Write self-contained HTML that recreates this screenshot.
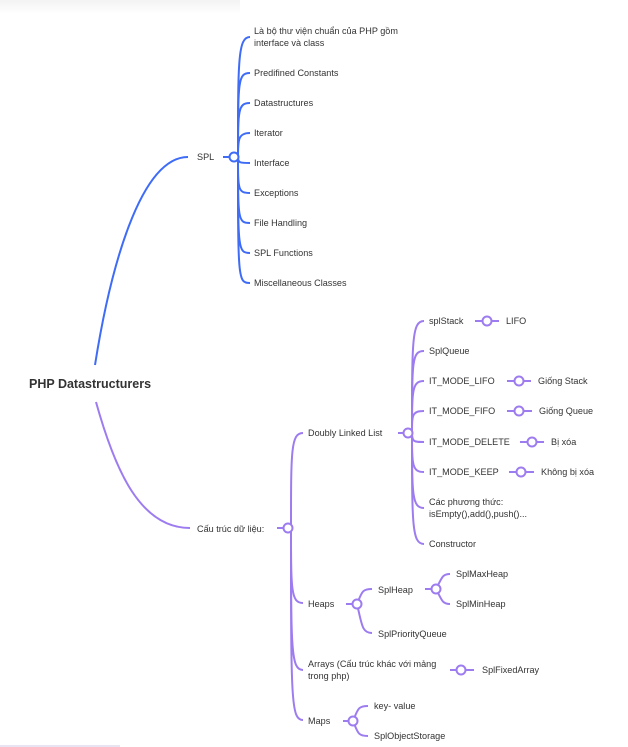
<!DOCTYPE html>
<html><head><meta charset="utf-8"><style>
html,body{margin:0;padding:0;background:#fff;}
svg{display:block;}
text{font-family:"Liberation Sans","Noto Sans CJK SC",sans-serif;font-size:9.1px;fill:#333;}
.r{font-size:12.5px;font-weight:bold;fill:#333;}
.b{stroke:#3f6cf6;stroke-width:2;fill:none;}
.p{stroke:#9d7cf0;stroke-width:2;fill:none;}
.cb{stroke:#3f6cf6;stroke-width:2;fill:#fff;}
.cp{stroke:#9d7cf0;stroke-width:2;fill:#fff;}
</style></head><body>
<svg width="628" height="747" viewBox="0 0 628 747" xmlns="http://www.w3.org/2000/svg">
<defs><linearGradient id="sh" x1="0" y1="0" x2="0" y2="1"><stop offset="0" stop-color="#f3f3f3"/><stop offset="1" stop-color="#fff"/></linearGradient></defs>
<rect x="0" y="0" width="240" height="14" fill="url(#sh)"/>
<rect x="0" y="745" width="120" height="2" fill="#e8e4f2"/>
<text class="r" x="29" y="388">PHP Datastructurers</text>
<path class="b" d="M95,365 C110,270 140,157 188,157"/>
<path class="p" d="M96,402 C115,470 140,528 190,528"/>
<text x="197" y="160">SPL</text>
<path class="b" d="M223,157 L230,157"/>
<path class="b" d="M238,157 C238,60 238,37 250,37"/>
<path class="b" d="M238,157 C238,280 238,283 250,283"/>
<path class="b" d="M238,157 C238,80 238,73 250,73"/>
<path class="b" d="M238,157 C238,110 238,103 250,103"/>
<path class="b" d="M238,157 C238,140 238,133 250,133"/>
<path class="b" d="M238,157 C238,163 240,163 250,163"/>
<path class="b" d="M238,157 C238,190 238,193 250,193"/>
<path class="b" d="M238,157 C238,220 238,223 250,223"/>
<path class="b" d="M238,157 C238,250 238,253 250,253"/>
<circle class="cb" cx="234" cy="157" r="4.5"/>
<text x="254" y="34">Là bộ thư viện chuẩn của PHP gồm</text>
<text x="254" y="46">interface và class</text>
<text x="254" y="76">Predifined Constants</text>
<text x="254" y="106">Datastructures</text>
<text x="254" y="136">Iterator</text>
<text x="254" y="166">Interface</text>
<text x="254" y="196">Exceptions</text>
<text x="254" y="226">File Handling</text>
<text x="254" y="256">SPL Functions</text>
<text x="254" y="286">Miscellaneous Classes</text>
<text x="197" y="532">Cấu trúc dữ liệu:</text>
<path class="p" d="M277,528 L284,528"/>
<path class="p" d="M291,528 C291,450 291,433 303,433"/>
<path class="p" d="M291,528 C291,590 291,603 303,603"/>
<path class="p" d="M291,528 C291,650 291,670 303,670"/>
<path class="p" d="M291,528 C291,700 291,720 303,720"/>
<circle class="cp" cx="288" cy="528" r="4.5"/>
<text x="308" y="436">Doubly Linked List</text>
<text x="308" y="607">Heaps</text>
<text x="308" y="667">Arrays (Cấu trúc khác với mảng</text>
<text x="308" y="679">trong php)</text>
<text x="308" y="724">Maps</text>
<path class="p" d="M398,433 L404,433"/>
<path class="p" d="M412,433 C412,340 412,321 424,321"/>
<path class="p" d="M412,433 C412,360 412,351 424,351"/>
<path class="p" d="M412,433 C412,390 412,381 424,381"/>
<path class="p" d="M412,433 C412,415 412,411 424,411"/>
<path class="p" d="M412,433 C412,442 414,442 424,442"/>
<path class="p" d="M412,433 C412,465 412,472 424,472"/>
<path class="p" d="M412,433 C412,495 412,508 424,508"/>
<path class="p" d="M412,433 C412,525 412,544 424,544"/>
<circle class="cp" cx="408" cy="433" r="4.5"/>
<text x="429" y="324">splStack</text>
<text x="429" y="354">SplQueue</text>
<text x="429" y="384">IT_MODE_LIFO</text>
<text x="429" y="414">IT_MODE_FIFO</text>
<text x="429" y="445">IT_MODE_DELETE</text>
<text x="429" y="475">IT_MODE_KEEP</text>
<text x="429" y="505">Các phương thức:</text>
<text x="429" y="517">isEmpty(),add(),push()...</text>
<text x="429" y="547">Constructor</text>
<path class="p" d="M475,321 L499,321"/><circle class="cp" cx="487" cy="321" r="4.5"/><text x="506" y="324">LIFO</text>
<path class="p" d="M507,381 L531,381"/><circle class="cp" cx="519" cy="381" r="4.5"/><text x="538" y="384">Giống Stack</text>
<path class="p" d="M507,411 L532,411"/><circle class="cp" cx="519" cy="411" r="4.5"/><text x="539" y="414">Giống Queue</text>
<path class="p" d="M520,442 L544,442"/><circle class="cp" cx="532" cy="442" r="4.5"/><text x="551" y="445">Bị xóa</text>
<path class="p" d="M509,472 L534,472"/><circle class="cp" cx="521" cy="472" r="4.5"/><text x="541" y="475">Không bị xóa</text>
<path class="p" d="M346,604 L353,604"/>
<path class="p" d="M357,604 C362,592 362,589 372,589"/>
<path class="p" d="M357,604 C362,625 362,633 372,633"/>
<circle class="cp" cx="357" cy="604" r="4.5"/>
<text x="378" y="593">SplHeap</text>
<text x="378" y="637">SplPriorityQueue</text>
<path class="p" d="M425,589 L432,589"/>
<path class="p" d="M436,589 C442,578 442,574 450,574"/>
<path class="p" d="M436,589 C442,600 442,604 450,604"/>
<circle class="cp" cx="436" cy="589" r="4.5"/>
<text x="456" y="577">SplMaxHeap</text>
<text x="456" y="607">SplMinHeap</text>
<path class="p" d="M450,670 L474,670"/><circle class="cp" cx="461" cy="670" r="4.5"/><text x="482" y="673">SplFixedArray</text>
<path class="p" d="M343,721 L349,721"/>
<path class="p" d="M353,721 C358,709 358,706 368,706"/>
<path class="p" d="M353,721 C358,733 358,736 368,736"/>
<circle class="cp" cx="353" cy="721" r="4.5"/>
<text x="374" y="709">key- value</text>
<text x="374" y="739">SplObjectStorage</text>
</svg>
</body></html>
